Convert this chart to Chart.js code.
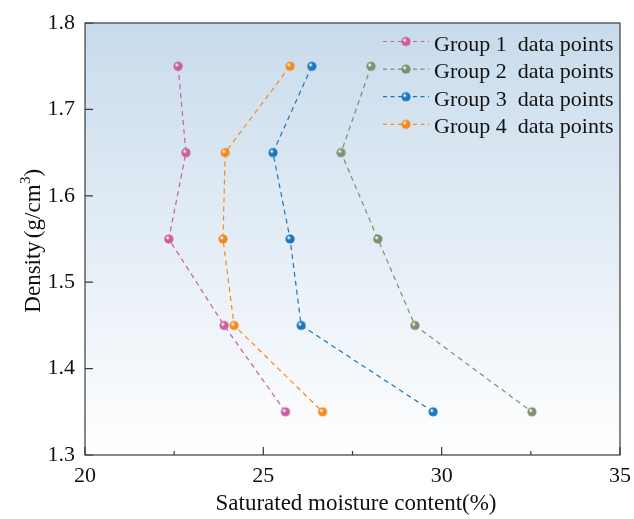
<!DOCTYPE html>
<html><head><meta charset="utf-8">
<script src="https://cdn.jsdelivr.net/npm/chart.js@4"></script>
<style>html,body{margin:0;padding:0;background:#fff}#wrap{width:634px;height:519px}</style>
</head><body><div id="wrap"><canvas id="c" width="634" height="519"></canvas></div>
<script>
const densities = [1.75, 1.65, 1.55, 1.45, 1.35];
const group1 = [22.61, 22.83, 22.35, 23.90, 25.62];
const group2 = [28.02, 27.18, 28.21, 29.25, 32.53];
const group3 = [26.36, 25.27, 25.75, 26.06, 29.76];
const group4 = [25.75, 23.93, 23.87, 24.18, 26.66];
const seriesNames = ['Group 1  data points','Group 2  data points','Group 3  data points','Group 4  data points'];
const colors = ['#cc5c9e','#7e8f6e','#1a76bd','#f7891c'];
const xTicks = [20, 25, 30, 35];
const xMinor = [22.5, 27.5, 32.5];
const yTicks = [1.3, 1.4, 1.5, 1.6, 1.7, 1.8];
const xTitle = 'Saturated moisture content(%)';
const yTitleMain = 'Density', yTitleUnit = '(g/cm', yTitleSup = '3', yTitleEnd = ')';
const FONT = '"Liberation Serif", "Times New Roman", serif';

function ball(color){
  const s = 12, c = document.createElement('canvas');
  c.width = s; c.height = s;
  const g = c.getContext('2d');
  const grd = g.createRadialGradient(4.5,4.5,0.5,6,6,6);
  grd.addColorStop(0,'#ffffff');
  grd.addColorStop(0.3,color);
  grd.addColorStop(1,color);
  g.fillStyle = grd;
  g.beginPath(); g.arc(6,6,4.6,0,Math.PI*2); g.fill();
  return c;
}

const all = [group1, group2, group3, group4];
const datasets = all.map((arr,i)=>({
  label: seriesNames[i],
  data: arr.map((x,j)=>({x:x, y:densities[j]})),
  borderColor: colors[i],
  backgroundColor: colors[i],
  borderWidth: 1.2,
  borderDash: [5,4],
  pointStyle: ball(colors[i]),
  pointRadius: 5,
  showLine: true,
  tension: 0
}));

const deco = {
  id: 'deco',
  beforeDraw(chart){
    const {ctx, chartArea:a} = chart;
    const grd = ctx.createLinearGradient(0,a.top,0,a.bottom);
    grd.addColorStop(0,'#c8dbec');
    grd.addColorStop(1,'#ffffff');
    ctx.save(); ctx.fillStyle = grd;
    ctx.fillRect(a.left,a.top,a.right-a.left,a.bottom-a.top);
    ctx.restore();
  },
  afterDraw(chart){
    const {ctx, chartArea:a, scales} = chart;
    ctx.save();
    ctx.strokeStyle = '#3a3a3a'; ctx.lineWidth = 1.2;
    ctx.strokeRect(a.left, a.top, a.right-a.left, a.bottom-a.top);
    ctx.beginPath();
    xTicks.forEach(v=>{const p=scales.x.getPixelForValue(v); ctx.moveTo(p,a.bottom); ctx.lineTo(p,a.bottom-8);});
    xMinor.forEach(v=>{const p=scales.x.getPixelForValue(v); ctx.moveTo(p,a.bottom); ctx.lineTo(p,a.bottom-4);});
    yTicks.forEach(v=>{const p=scales.y.getPixelForValue(v); ctx.moveTo(a.left,p); ctx.lineTo(a.left+8,p);});
    ctx.stroke();
    // legend
    ctx.font = '22px ' + FONT;
    ctx.textBaseline = 'alphabetic';
    chart.data.datasets.forEach((d,i)=>{
      const y = 41.5 + i*27.6;
      ctx.strokeStyle = d.borderColor; ctx.lineWidth = 1.2;
      ctx.setLineDash([4,3.5]);
      ctx.beginPath(); ctx.moveTo(383,y); ctx.lineTo(429,y); ctx.stroke();
      ctx.setLineDash([]);
      ctx.drawImage(d.pointStyle, 406-6, y-6);
      ctx.fillStyle = '#111';
      ctx.fillText(d.label, 434, y+9);
    });
    // x title
    ctx.fillStyle = '#111';
    ctx.font = '23px ' + FONT;
    ctx.textAlign = 'center';
    ctx.fillText(xTitle, 356, 510);
    // y title with superscript
    ctx.textAlign = 'left';
    const big = '23px ' + FONT, small = '15px ' + FONT;
    ctx.font = big;
    const w1 = ctx.measureText(yTitleMain).width, gap = 3;
    const w2 = ctx.measureText(yTitleUnit).width;
    const w4 = ctx.measureText(yTitleEnd).width;
    ctx.font = small;
    const w3 = ctx.measureText(yTitleSup).width;
    const total = w1 + gap + w2 + w3 + w4;
    ctx.translate(40, 241);
    ctx.rotate(-Math.PI/2);
    let x = -total/2;
    ctx.font = big;
    ctx.fillText(yTitleMain, x, 0); x += w1 + gap;
    ctx.fillText(yTitleUnit, x, 0); x += w2;
    ctx.font = small;
    ctx.fillText(yTitleSup, x + 0.5, -10); x += w3 + 0.5;
    ctx.font = big;
    ctx.fillText(yTitleEnd, x, 0);
    ctx.restore();
  }
};

new Chart(document.getElementById('c'), {
  type: 'scatter',
  data: { datasets },
  options: {
    responsive: false, animation: false,
    layout: { autoPadding: false, padding: { top: 23, right: 14, left: 0, bottom: 0 } },
    plugins: { legend: { display: false }, tooltip: { enabled: false } },
    scales: {
      x: {
        type: 'linear', min: 20, max: 35,
        afterBuildTicks(s){ s.ticks = xTicks.map(v=>({value:v})); },
        afterFit(s){ s.height = 64; s.paddingLeft = 0; s.paddingRight = 0; },
        grid: { display: false, drawTicks: false },
        border: { display: false },
        ticks: { color: '#111', font: { family: FONT, size: 22 }, padding: 8 },
        title: { display: false }
      },
      y: {
        type: 'linear', min: 1.3, max: 1.8,
        afterBuildTicks(s){ s.ticks = yTicks.map(v=>({value:v})); },
        afterFit(s){ s.width = 85; s.paddingTop = 0; s.paddingBottom = 0; },
        grid: { display: false, drawTicks: false },
        border: { display: false },
        ticks: { color: '#111', font: { family: FONT, size: 22 }, padding: 10, callback: v=>v.toFixed(1) },
        title: { display: false }
      }
    }
  },
  plugins: [deco]
});
</script>
</body></html>
